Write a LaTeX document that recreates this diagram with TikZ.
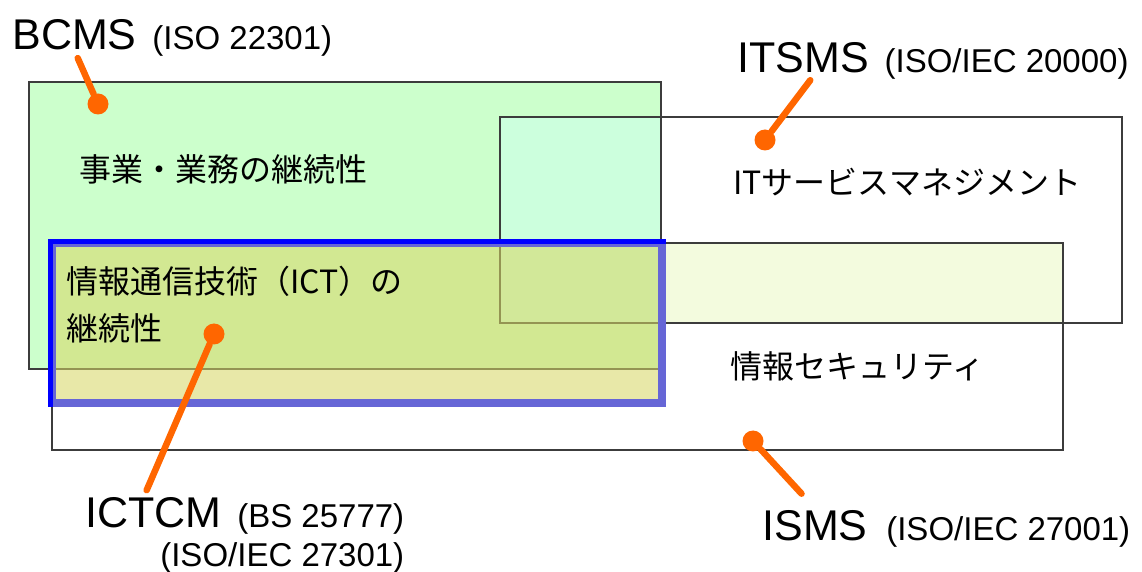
\documentclass[tikz,border=0pt]{standalone}
\usepackage{fontspec}
\setmainfont{Liberation Sans}
\newfontfamily\jpfont{Noto Sans CJK JP}
\usepackage{xcolor}
\definecolor{bcgreen}{RGB}{204,255,204}
\definecolor{itmint}{RGB}{204,255,221}
\definecolor{isyellow}{RGB}{243,251,222}
\definecolor{ictfill}{RGB}{215,215,102}
\definecolor{ictframe}{RGB}{102,102,214}
\definecolor{pinorange}{RGB}{255,102,0}
\definecolor{edgegray}{RGB}{60,60,60}
\usepackage{tikz}
\usetikzlibrary{positioning,calc}
\tikzset{
  sysname/.style={inner sep=0pt,font=\fontsize{21.5}{24}\selectfont},
  stdname/.style={inner sep=0pt,font=\fontsize{16.5}{19}\selectfont},
  area/.style={inner sep=0pt,align=left,%
    font=\jpfont\fontsize{16}{23.5}\selectfont},
  msbox/.style={draw=edgegray,line width=1pt},
  leader/.style={draw=pinorange,line width=3.25pt,line cap=round,shorten <=4pt},
  pindot/.style={circle,fill=pinorange,inner sep=0pt,minimum size=10.5pt},
}

\begin{document}
\begin{tikzpicture}[x=0.5pt,y=-0.5pt]
\useasboundingbox (0,0) rectangle (1142,572);
% areas
\coordinate (bc1) at (29,82);   \coordinate (bc2) at (661,369);
\coordinate (it1) at (500,117); \coordinate (it2) at (1122,323);
\coordinate (is1) at (52,243);  \coordinate (is2) at (1063,450);
\coordinate (ict1) at (52,243); \coordinate (ict2) at (662,403);
\fill[bcgreen] (bc1) rectangle (bc2);
\fill[itmint] (it1) rectangle (bc2 |- it2);
\fill[isyellow] (bc2 |- is1) rectangle (is2 |- it2);
\draw[msbox] (is1) rectangle (is2);
\draw[msbox] (it1) rectangle (it2);
\draw[msbox] (bc1) rectangle (bc2);
% ICT continuity box
\fill[ictfill,opacity=.57] (ict1) rectangle (ict2);
\draw[ictframe,line width=4pt] (ict1) rectangle (ict2);
\draw[blue,line width=2.5pt] (50.5,407) -- (50.5,241.5) -- (666,241.5);
% texts in the areas
\node[area,anchor=west] (bcarea) at (79,169) {事業・業務の継続性};
\node[area,anchor=west] (itarea) at (733,182) {ITサービスマネジメント};
\node[area,anchor=west] (ictarea) at (66,305) {情報通信技術（ICT）の\\継続性};
\node[area,anchor=west] (isarea) at (730,366) {情報セキュリティ};
% system names
\node[sysname,anchor=base west] (bcms) at (12,50) {BCMS};
\node[stdname,base right=7.5pt of bcms] (bcmsstd) {(ISO 22301)};
\node[sysname,anchor=base west] (itsms) at (737,73) {ITSMS};
\node[stdname,base right=7.5pt of itsms] (itsmsstd) {(ISO/IEC 20000)};
\node[sysname,anchor=base west] (ictcm) at (85,528) {ICTCM};
\node[stdname,base right=7.5pt of ictcm] (ictcmbs) {(BS 25777)};
\node[stdname,anchor=base east,yshift=-19.5pt] (ictcmiso) at (ictcmbs.base east) {(ISO/IEC 27301)};
\node[sysname,anchor=base west] (isms) at (762,540) {ISMS};
\node[stdname,base right=9pt of isms] (ismsstd) {(ISO/IEC 27001)};
% leaders
\node[pindot] (bcmsdot) at (98,104) {};
\node[pindot] (itsmsdot) at (765,140) {};
\node[pindot] (ictcmdot) at (214,334) {};
\node[pindot] (ismsdot) at (753,441) {};
\draw[leader] (bcms.south) -- (bcmsdot);
\draw[leader] ([xshift=6pt]itsms.south) -- (itsmsdot);
\draw[leader] ([xshift=-5pt]ictcm.north) -- (ictcmdot);
\draw[leader] ([xshift=-4pt,yshift=5pt]isms.north) -- (ismsdot);
\end{tikzpicture}
\end{document}
